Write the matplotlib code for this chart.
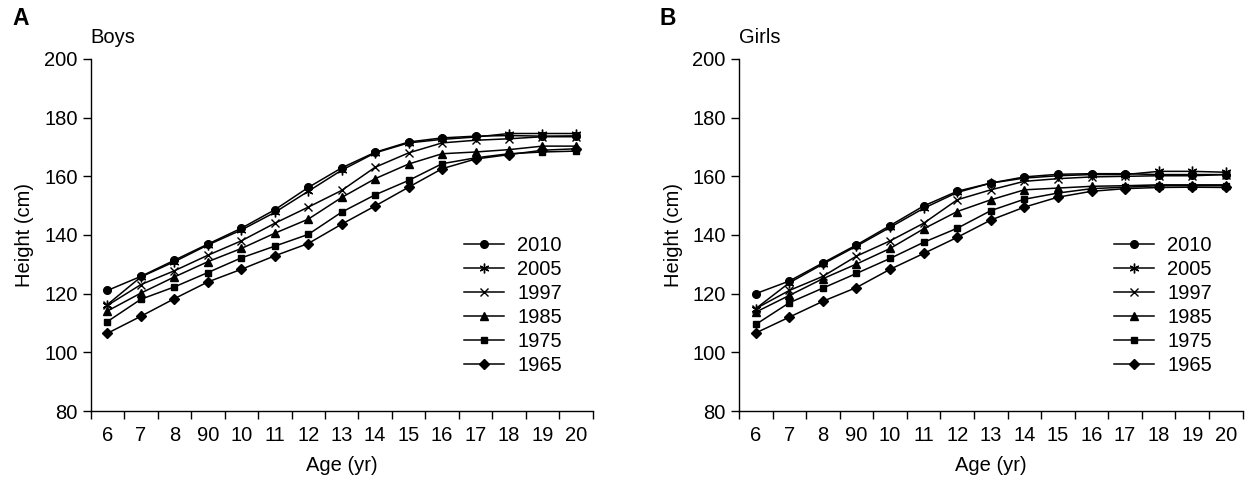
import numpy as np
import matplotlib.pyplot as plt

plt.rcParams['font.family'] = ['Liberation Sans', 'DejaVu Sans']

# ages (tick labels as printed in the original, incl. the "90" typo)
ages = [6, 7, 8, 9, 10, 11, 12, 13, 14, 15, 16, 17, 18, 19, 20]
age_labels = ['6', '7', '8', '90', '10', '11', '12', '13', '14', '15',
              '16', '17', '18', '19', '20']
years = ['2010', '2005', '1997', '1985', '1975', '1965']

# boys height (cm)
boys_2010 = [121.1, 125.9, 131.4, 136.9, 142.3, 148.6, 156.2, 162.9, 168.2, 171.7, 173.1, 173.7, 173.9, 173.7, 173.8]
boys_2005 = [116.3, 125.7, 130.9, 136.6, 141.7, 147.7, 154.9, 162.1, 168.0, 171.4, 172.6, 173.4, 174.6, 174.6, 174.6]
boys_1997 = [116.0, 123.1, 127.8, 133.1, 138.0, 144.0, 149.5, 155.2, 163.1, 168.0, 171.4, 172.3, 172.8, 173.5, 173.5]
boys_1985 = [114.1, 120.2, 125.7, 130.9, 135.4, 140.6, 145.4, 152.8, 159.2, 164.2, 167.7, 168.3, 169.1, 170.3, 170.3]
boys_1975 = [110.5, 118.1, 122.3, 127.2, 132.2, 136.2, 140.2, 147.8, 153.7, 158.6, 164.3, 166.3, 167.7, 168.3, 168.6]
boys_1965 = [106.5, 112.3, 118.3, 124.0, 128.3, 132.9, 137.1, 143.7, 149.9, 156.3, 162.6, 165.9, 167.4, 168.9, 169.4]

# girls height (cm)
girls_2010 = [120.0, 124.3, 130.5, 136.6, 143.2, 149.9, 154.9, 157.7, 159.8, 160.7, 160.9, 160.9, 160.6, 160.6, 160.6]
girls_2005 = [114.9, 123.7, 130.1, 136.2, 142.6, 149.1, 154.5, 157.7, 159.4, 160.2, 160.6, 160.6, 161.7, 161.7, 161.4]
girls_1997 = [114.9, 121.1, 125.9, 132.8, 138.0, 144.0, 152.0, 155.4, 158.3, 159.2, 159.8, 160.0, 160.2, 160.2, 160.6]
girls_1985 = [113.7, 119.4, 125.1, 130.1, 135.4, 142.1, 148.0, 152.0, 155.4, 156.0, 156.6, 156.8, 157.1, 157.1, 157.1]
girls_1975 = [109.5, 116.9, 121.9, 126.9, 132.0, 137.5, 142.3, 148.3, 152.2, 154.3, 155.8, 156.3, 156.8, 156.8, 156.8]
girls_1965 = [106.6, 112.0, 117.4, 122.1, 128.3, 133.7, 139.2, 145.1, 149.5, 152.9, 154.9, 155.8, 156.2, 156.3, 156.2]

boys = [boys_2010, boys_2005, boys_1997, boys_1985, boys_1975, boys_1965]
girls = [girls_2010, girls_2005, girls_1997, girls_1985, girls_1975, girls_1965]

markers = ['o', (6, 2, 0), 'x', '^', 's', 'D']
msizes = [5.5, 7, 6, 6, 5, 5]

fig = plt.figure(figsize=(12.48, 4.82), dpi=100)
ax1 = fig.add_axes([0.0727, 0.1473, 0.4022, 0.7303])
ax2 = fig.add_axes([0.5921, 0.1473, 0.4036, 0.7303])


def draw(ax, data, title, letter):
    x = np.arange(len(ages))
    for vals, yr, mk, ms in zip(data, years, markers, msizes):
        ax.plot(x, vals, color='black', lw=1.1, marker=mk, ms=ms,
                mec='black', mfc='black', mew=1.0, label=yr)
    ax.set_xlim(-0.5, len(ages) - 0.5)
    ax.set_ylim(80, 200)
    ax.set_yticks(np.arange(80, 201, 20))
    # tick marks on the category boundaries, labels in the middle
    ax.set_xticks(np.arange(-0.5, len(ages), 1))
    ax.set_xticklabels([])
    ax.set_xticks(x, minor=True)
    ax.set_xticklabels(age_labels, minor=True)
    ax.tick_params(axis='x', which='major', direction='out', length=5.5, width=1)
    ax.tick_params(axis='x', which='minor', length=0, pad=11, labelsize=14.5)
    ax.tick_params(axis='y', direction='out', length=5.5, width=1, pad=4, labelsize=14.5)
    for s in ['top', 'right']:
        ax.spines[s].set_visible(False)
    for s in ['left', 'bottom']:
        ax.spines[s].set_linewidth(1.0)
    ax.set_xlabel('Age (yr)', fontsize=14.5, labelpad=8)
    ax.set_ylabel('Height (cm)', fontsize=14.5, labelpad=7)
    ax.text(0.0, 1.062, title, transform=ax.transAxes, fontsize=14.5,
            ha='left', va='center')
    ax.text(-0.157, 1.114, letter, transform=ax.transAxes, fontsize=16.5,
            fontweight='bold', ha='left', va='center')
    ax.legend(loc='lower right', bbox_to_anchor=(0.955, 0.08), frameon=False,
              fontsize=14.5, handlelength=2.0, handletextpad=0.65,
              labelspacing=0.25, borderaxespad=0)


draw(ax1, boys, 'Boys', 'A')
draw(ax2, girls, 'Girls', 'B')

fig.savefig('out.png', dpi=100)
